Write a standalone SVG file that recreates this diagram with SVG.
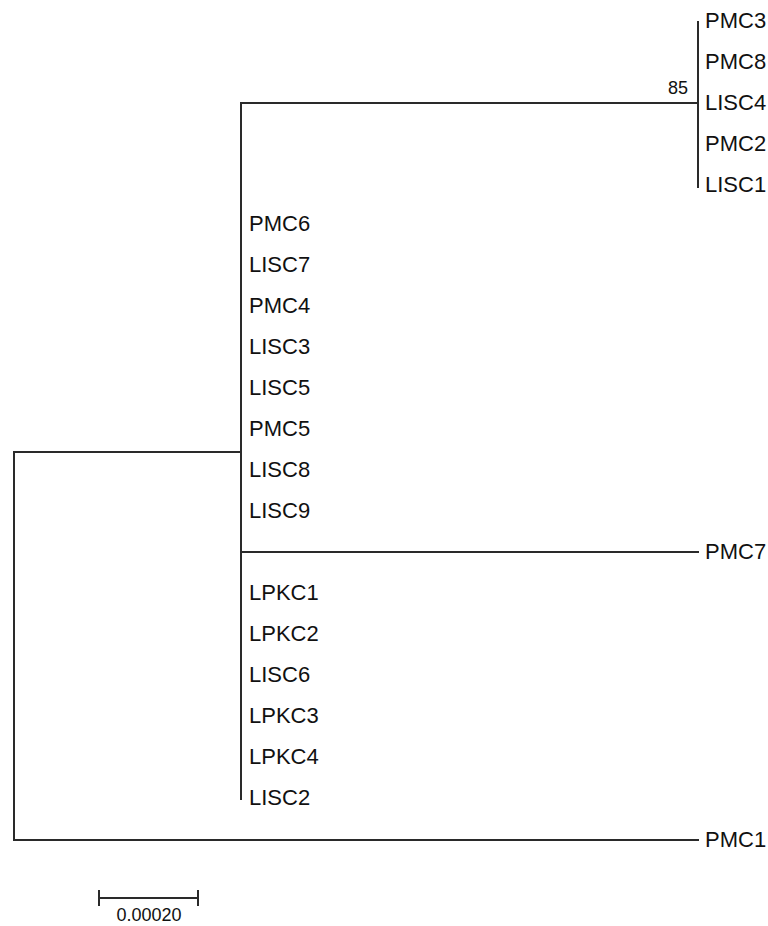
<svg xmlns="http://www.w3.org/2000/svg" width="768" height="926" viewBox="0 0 768 926">
  <style>
    .br { stroke: #2a2a2a; stroke-width: 2; fill: none; stroke-linecap: square; }
    .lb { font-family: "Liberation Sans", Arial, sans-serif; font-size: 22px; fill: #111; }
    .bs { font-family: "Liberation Sans", Arial, sans-serif; font-size: 18px; fill: #111; }
  </style>
  <rect width="768" height="926" fill="#fff"/>

  <!-- tree branches -->
  <g id="branches">
    <!-- root -->
    <path class="br" d="M241,452 H14 V840 H698"/>
    <!-- main clade stem -->
    <path class="br" d="M241,103 V799"/>
    <!-- upper clade -->
    <path class="br" d="M241,103 H698"/>
    <path class="br" d="M698,22 V187"/>
    <!-- PMC7 -->
    <path class="br" d="M241,552 H698"/>
  </g>

  <text class="bs" x="688" y="94" text-anchor="end">85</text>

  <!-- upper clade leaves -->
  <g id="clade-upper">
    <text id="PMC3" class="lb" x="705" y="28">PMC3</text>
    <text id="PMC8" class="lb" x="705" y="69">PMC8</text>
    <text id="LISC4" class="lb" x="705" y="110">LISC4</text>
    <text id="PMC2" class="lb" x="705" y="151">PMC2</text>
    <text id="LISC1" class="lb" x="705" y="192">LISC1</text>
  </g>

  <!-- leaves on the main stem -->
  <g id="clade-main">
    <text id="PMC6" class="lb" x="249" y="231">PMC6</text>
    <text id="LISC7" class="lb" x="249" y="272">LISC7</text>
    <text id="PMC4" class="lb" x="249" y="313">PMC4</text>
    <text id="LISC3" class="lb" x="249" y="354">LISC3</text>
    <text id="LISC5" class="lb" x="249" y="395">LISC5</text>
    <text id="PMC5" class="lb" x="249" y="436">PMC5</text>
    <text id="LISC8" class="lb" x="249" y="477">LISC8</text>
    <text id="LISC9" class="lb" x="249" y="518">LISC9</text>
    <text id="PMC7" class="lb" x="705" y="559">PMC7</text>
    <text id="LPKC1" class="lb" x="249" y="600">LPKC1</text>
    <text id="LPKC2" class="lb" x="249" y="641">LPKC2</text>
    <text id="LISC6" class="lb" x="249" y="682">LISC6</text>
    <text id="LPKC3" class="lb" x="249" y="723">LPKC3</text>
    <text id="LPKC4" class="lb" x="249" y="764">LPKC4</text>
    <text id="LISC2" class="lb" x="249" y="805">LISC2</text>
  </g>

  <g id="outgroup">
    <text id="PMC1" class="lb" x="705" y="847">PMC1</text>
  </g>

  <!-- scale bar -->
  <g id="scale">
    <path class="br" d="M99,898 H198 M99,891 V905 M198,891 V905"/>
    <text class="bs" x="149" y="921" text-anchor="middle">0.00020</text>
  </g>
</svg>
